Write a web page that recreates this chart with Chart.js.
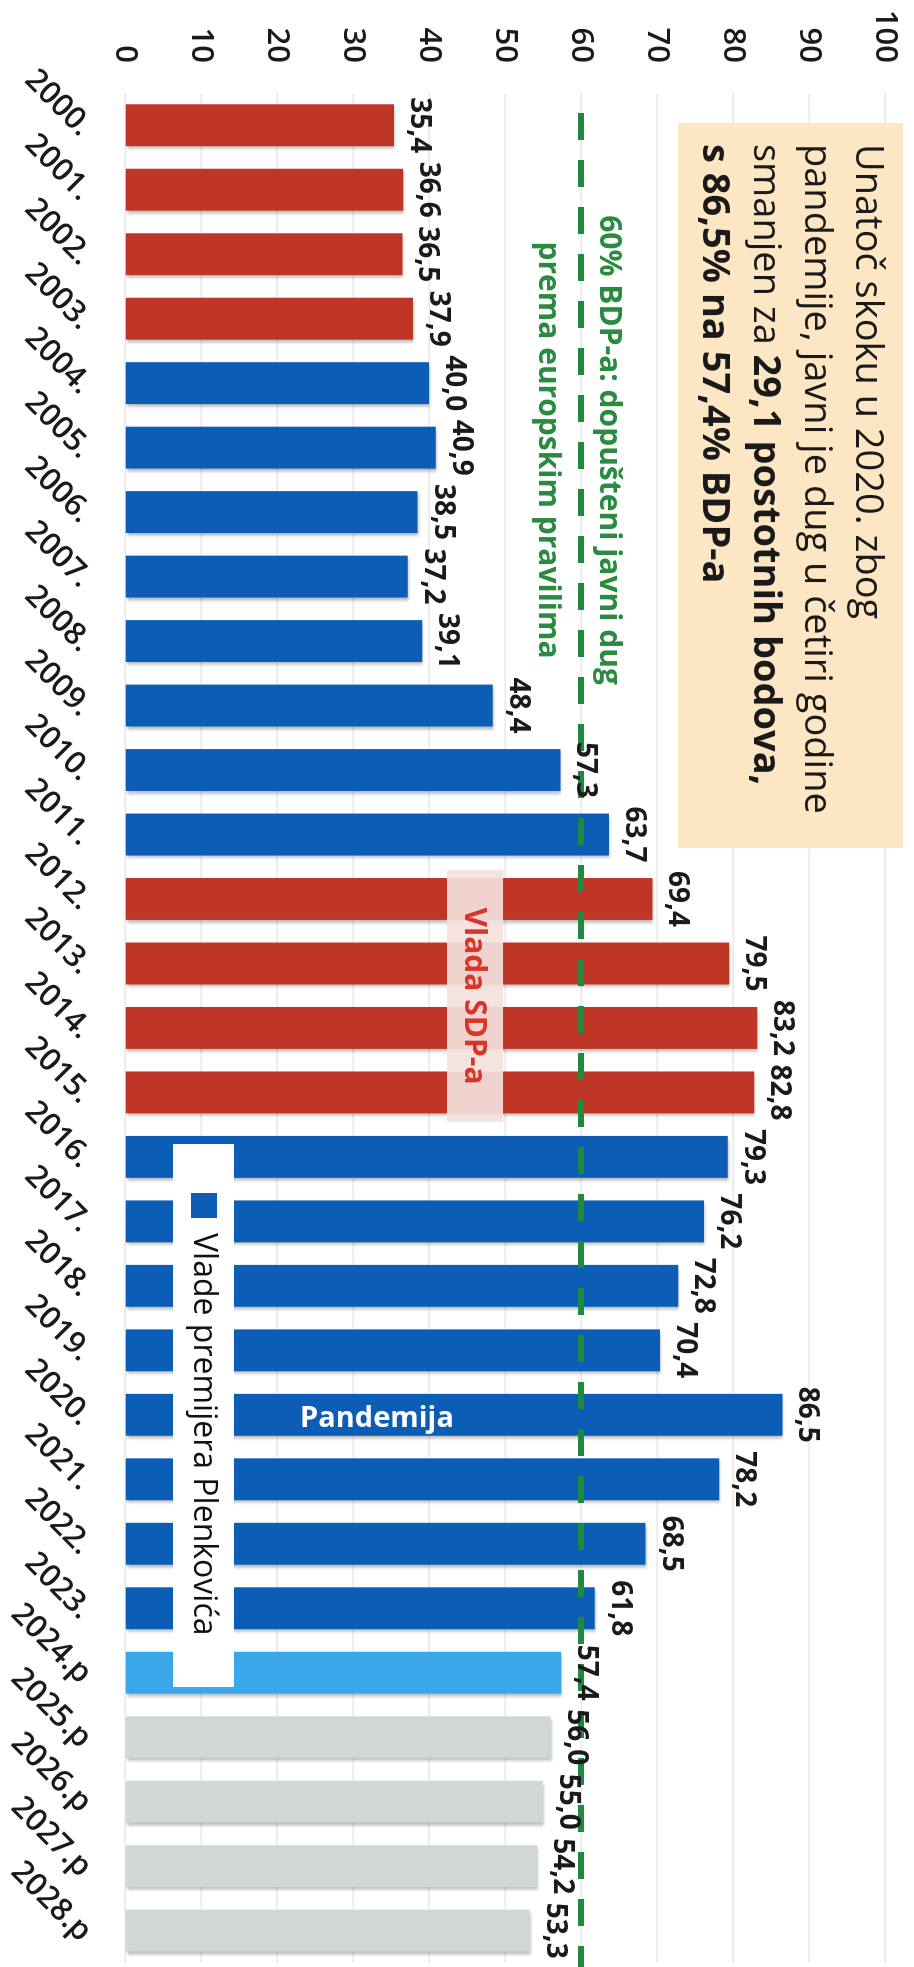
<!DOCTYPE html>
<html>
<head>
<meta charset="utf-8">
<script src="https://cdn.jsdelivr.net/npm/chart.js@4.4.1/dist/chart.umd.min.js"></script>
<style>
  html, body { margin: 0; padding: 0; background: #fff; overflow: hidden; }
  body { width: 914px; height: 1967px; position: relative; }
  /* the chart is drawn landscape and turned a quarter clockwise */
  #wrap { position: absolute; left: 0; top: 0; width: 1975px; height: 914px;
          transform-origin: 0 0; transform: translateX(914px) rotate(90deg); }
</style>
</head>
<body>
<div id="wrap"><canvas id="myChart" width="1975" height="914"></canvas></div>
<script>
const years = ['2000.', '2001.', '2002.', '2003.', '2004.', '2005.', '2006.', '2007.',
  '2008.', '2009.', '2010.', '2011.', '2012.', '2013.', '2014.', '2015.', '2016.',
  '2017.', '2018.', '2019.', '2020.', '2021.', '2022.', '2023.', '2024.p', '2025.p',
  '2026.p', '2027.p', '2028.p'];
const debt = [35.4, 36.6, 36.5, 37.9, 40.0, 40.9, 38.5, 37.2, 39.1, 48.4, 57.3, 63.7,
  69.4, 79.5, 83.2, 82.8, 79.3, 76.2, 72.8, 70.4, 86.5, 78.2, 68.5, 61.8, 57.4, 56.0,
  55.0, 54.2, 53.3];
const government = ['SDP', 'SDP', 'SDP', 'SDP', 'HDZ', 'HDZ', 'HDZ', 'HDZ', 'HDZ', 'HDZ',
  'HDZ', 'HDZ', 'SDP', 'SDP', 'SDP', 'SDP', 'HDZ', 'HDZ', 'HDZ', 'HDZ', 'HDZ', 'HDZ',
  'HDZ', 'HDZ', 'current', 'forecast', 'forecast', 'forecast', 'forecast'];
const euLimit = 60;

const colours = { SDP: '#bf3627', HDZ: '#0b5db5', current: '#3aa7ea', forecast: '#d3d6d7' };
const FONT = "'Open Sans', 'DejaVu Sans', sans-serif";

const overlay = {
  id: 'overlay',
  beforeDatasetsDraw(chart) {
    const ctx = chart.ctx;
    ctx.save();
    ctx.shadowColor = 'rgba(0,0,0,0.28)';
    ctx.shadowBlur = 3;
    ctx.shadowOffsetX = 3;
    ctx.shadowOffsetY = -1;
  },
  afterDatasetsDraw(chart) {
    const ctx = chart.ctx;
    ctx.restore();
    const y = chart.scales.y;
    const area = chart.chartArea;
    const bars = chart.getDatasetMeta(0).data;

    // beige note
    ctx.fillStyle = '#fde6c4';
    ctx.fillRect(123, 11, 725, 225);
    ctx.fillStyle = '#1a1a1a';
    ctx.textAlign = 'left';
    ctx.textBaseline = 'alphabetic';
    ctx.font = '38px ' + FONT;
    ctx.fillText('Unatoč skoku u 2020. zbog', 144, 58);
    ctx.fillText('pandemije, javni je dug u četiri godine', 144, 109);
    ctx.fillText('smanjen za ', 144, 160);
    const w = ctx.measureText('smanjen za ').width;
    ctx.font = 'bold 38px ' + FONT;
    ctx.fillText('29,1 postotnih bodova,', 144 + w, 160);
    ctx.fillText('s 86,5% na 57,4% BDP-a', 144, 211);

    // SDP government band
    ctx.fillStyle = 'rgba(244,225,220,0.92)';
    ctx.fillRect(870, 411, 252, 56);
    ctx.fillStyle = '#d9362b';
    ctx.font = 'bold 30px ' + FONT;
    ctx.textAlign = 'center';
    ctx.textBaseline = 'middle';
    ctx.fillText('Vlada SDP-a', 996, 440);

    // Plenković legend
    ctx.fillStyle = '#ffffff';
    ctx.fillRect(1144, 680, 543, 61);
    ctx.fillStyle = colours.HDZ;
    ctx.fillRect(1193, 697, 25, 26);
    ctx.fillStyle = '#111';
    ctx.font = '32px ' + FONT;
    ctx.textAlign = 'left';
    ctx.fillText('Vlade premijera Plenkovića', 1233, 711);

    // pandemic label inside the 2020 bar
    ctx.save();
    ctx.translate(bars[20].x + 12, 614);
    ctx.rotate(-Math.PI / 2);
    ctx.fillStyle = '#ffffff';
    ctx.font = 'bold 29px ' + FONT;
    ctx.textBaseline = 'alphabetic';
    ctx.fillText('Pandemija', 0, 0);
    ctx.restore();

    // 60% limit
    const ly = y.getPixelForValue(euLimit);
    ctx.save();
    ctx.strokeStyle = '#1f8a3d';
    ctx.lineWidth = 6;
    ctx.setLineDash([27, 20]);
    ctx.beginPath();
    ctx.moveTo(113, ly);
    ctx.lineTo(area.right + 10, ly);
    ctx.stroke();
    ctx.restore();
    ctx.fillStyle = '#2a8a3f';
    ctx.font = 'bold 30px ' + FONT;
    ctx.textAlign = 'center';
    ctx.textBaseline = 'middle';
    ctx.fillText('60% BDP-a: dopušteni javni dug', 450, ly - 28);
    ctx.fillText('prema europskim pravilima', 450, ly + 33);

    // value labels
    ctx.fillStyle = '#1a1a1a';
    ctx.font = 'bold 28px ' + FONT;
    ctx.textBaseline = 'alphabetic';
    bars.forEach((bar, i) => {
      ctx.fillText(debt[i].toFixed(1).replace('.', ','), bar.x, bar.y - 17);
    });
  }
};

new Chart(document.getElementById('myChart'), {
  type: 'bar',
  data: {
    labels: years,
    datasets: [{
      data: debt,
      backgroundColor: government.map(g => colours[g]),
      borderWidth: 0,
      categoryPercentage: 1,
      barPercentage: 0.65
    }]
  },
  options: {
    responsive: false,
    animation: false,
    devicePixelRatio: 1,
    layout: { padding: { top: 29, right: 3, left: 0, bottom: 0 } },
    plugins: { legend: { display: false }, tooltip: { enabled: false } },
    scales: {
      x: {
        grid: { display: false },
        border: { display: false },
        ticks: {
          autoSkip: false,
          minRotation: 45,
          maxRotation: 45,
          padding: 18,
          labelOffset: 6,
          color: '#1a1a1a',
          font: { family: FONT, size: 31, weight: '600' }
        },
        afterFit(scale) { scale.height = 125; }
      },
      y: {
        min: 0,
        max: 100,
        grid: { color: '#e8e8e8', lineWidth: 1.5, drawTicks: false },
        border: { display: false },
        ticks: {
          stepSize: 10,
          padding: 30,
          color: '#1a1a1a',
          font: { family: FONT, size: 31, weight: '600' }
        },
        afterFit(scale) {
          scale.width = 93;
          scale.paddingTop = 10;
          scale.paddingBottom = 10;
        }
      }
    }
  },
  plugins: [overlay]
});
</script>
</body>
</html>
